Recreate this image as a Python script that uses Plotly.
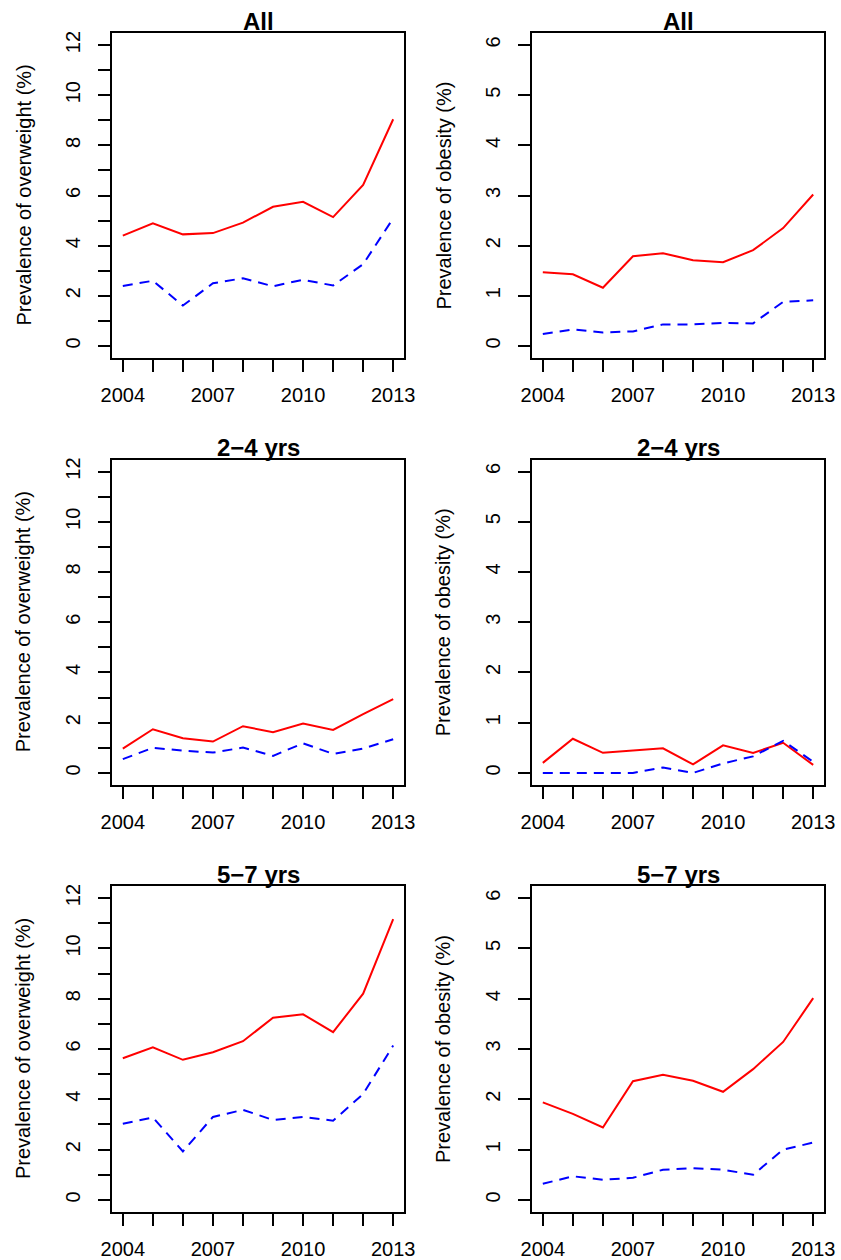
import plotly.graph_objects as go

years = [2004, 2005, 2006, 2007, 2008, 2009, 2010, 2011, 2012, 2013]

# Overweight (%)
ow_all_red = [4.40, 4.89, 4.45, 4.50, 4.92, 5.55, 5.75, 5.14, 6.42, 9.04]
ow_all_blue = [2.39, 2.60, 1.61, 2.50, 2.70, 2.38, 2.64, 2.41, 3.26, 5.09]
ow_24_red = [0.97, 1.74, 1.38, 1.25, 1.86, 1.62, 1.97, 1.71, 2.34, 2.94]
ow_24_blue = [0.55, 1.00, 0.89, 0.81, 1.01, 0.68, 1.18, 0.76, 0.97, 1.34]
ow_57_red = [5.63, 6.07, 5.57, 5.87, 6.31, 7.24, 7.38, 6.67, 8.20, 11.16]
ow_57_blue = [3.03, 3.28, 1.93, 3.30, 3.58, 3.18, 3.30, 3.15, 4.21, 6.14]

# Obesity (%)
ob_all_red = [1.47, 1.43, 1.16, 1.79, 1.85, 1.71, 1.67, 1.91, 2.35, 3.02]
ob_all_blue = [0.24, 0.33, 0.27, 0.29, 0.43, 0.43, 0.46, 0.45, 0.88, 0.91]
ob_24_red = [0.20, 0.68, 0.40, 0.45, 0.49, 0.17, 0.55, 0.40, 0.60, 0.16]
ob_24_blue = [0.00, 0.00, 0.00, 0.00, 0.11, 0.00, 0.19, 0.33, 0.64, 0.22]
ob_57_red = [1.94, 1.71, 1.44, 2.36, 2.49, 2.37, 2.15, 2.60, 3.14, 4.01]
ob_57_blue = [0.32, 0.47, 0.40, 0.44, 0.60, 0.63, 0.60, 0.50, 1.00, 1.14]

panel_titles = ["All", "All", "2\u22124 yrs", "2\u22124 yrs", "5\u22127 yrs", "5\u22127 yrs"]
ylabels = ["Prevalence of overweight (%)", "Prevalence of obesity (%)"]

x_tickvals = years
x_ticktext = ["2004", "", "", "2007", "", "", "2010", "", "", "2013"]
ow_tickvals = list(range(0, 13))
ow_ticktext = ["0", "", "2", "", "4", "", "6", "", "8", "", "10", "", "12"]
ob_tickvals = list(range(0, 7))
ob_ticktext = ["0", "1", "2", "3", "4", "5", "6"]

W, H = 841, 1260
FONT = "Liberation Sans, Arial, Helvetica, sans-serif"

col_px = [(112, 404), (532, 824)]
row_px = [(33, 358), (459.5, 785), (886, 1212)]

panels = [
    (ow_all_red, ow_all_blue), (ob_all_red, ob_all_blue),
    (ow_24_red, ow_24_blue), (ob_24_red, ob_24_blue),
    (ow_57_red, ow_57_blue), (ob_57_red, ob_57_blue),
]

fig = go.Figure()
annotations = []
layout = {}

for i, (red, blue) in enumerate(panels):
    r, c = divmod(i, 2)
    n = i + 1
    xa = "x" if n == 1 else f"x{n}"
    ya = "y" if n == 1 else f"y{n}"
    fig.add_trace(go.Scatter(x=years, y=red, mode="lines", xaxis=xa, yaxis=ya,
                             line=dict(color="#FF0000", width=2), showlegend=False))
    fig.add_trace(go.Scatter(x=years, y=blue, mode="lines", xaxis=xa, yaxis=ya,
                             line=dict(color="#0000FF", width=2, dash="10px,7px"), showlegend=False))
    x0, x1 = col_px[c]
    y0, y1 = row_px[r]
    xd = [x0 / W, x1 / W]
    yd = [1 - y1 / H, 1 - y0 / H]
    if c == 0:
        yr = [-0.48, 12.48]
        tv, tt = ow_tickvals, ow_ticktext
    else:
        yr = [-0.24, 6.24]
        tv, tt = ob_tickvals, ob_ticktext
    common = dict(showline=True, mirror=True, linecolor="black", linewidth=1.5,
                  ticks="outside", ticklen=12, tickwidth=1.5, tickcolor="black",
                  showgrid=False, zeroline=False, automargin=False,
                  tickfont=dict(family=FONT, size=20, color="black"))
    layout["xaxis" if n == 1 else f"xaxis{n}"] = dict(
        domain=xd, range=[2003.64, 2013.36], anchor=ya,
        tickmode="array", tickvals=x_tickvals, ticktext=x_ticktext,
        ticklabelstandoff=6, **common)
    layout["yaxis" if n == 1 else f"yaxis{n}"] = dict(
        domain=yd, range=yr, anchor=xa,
        tickmode="array", tickvals=tv, ticktext=tt, tickangle=-90,
        ticklabelstandoff=10, **common)
    annotations.append(dict(text="<b>" + panel_titles[i] + "</b>", x=(x0 + x1) / 2 / W,
                            y=1 - 21 / H - r * 426.5 / H, xref="paper", yref="paper",
                            xanchor="center", yanchor="middle", showarrow=False,
                            font=dict(family=FONT, size=24, color="black")))
    annotations.append(dict(text=ylabels[c], x=(23 if c == 0 else 443) / W,
                            y=1 - (y0 + y1) / 2 / H, xref="paper", yref="paper",
                            xanchor="center", yanchor="middle", showarrow=False, textangle=-90,
                            font=dict(family=FONT, size=20, color="black")))

fig.update_layout(width=W, height=H, margin=dict(l=0, r=0, t=0, b=0),
                  paper_bgcolor="white", plot_bgcolor="white",
                  annotations=annotations, **layout)
fig.write_html("out.html", config={"displayModeBar": False},
               post_script="document.body.style.margin='0px';document.body.style.overflow='hidden';")
